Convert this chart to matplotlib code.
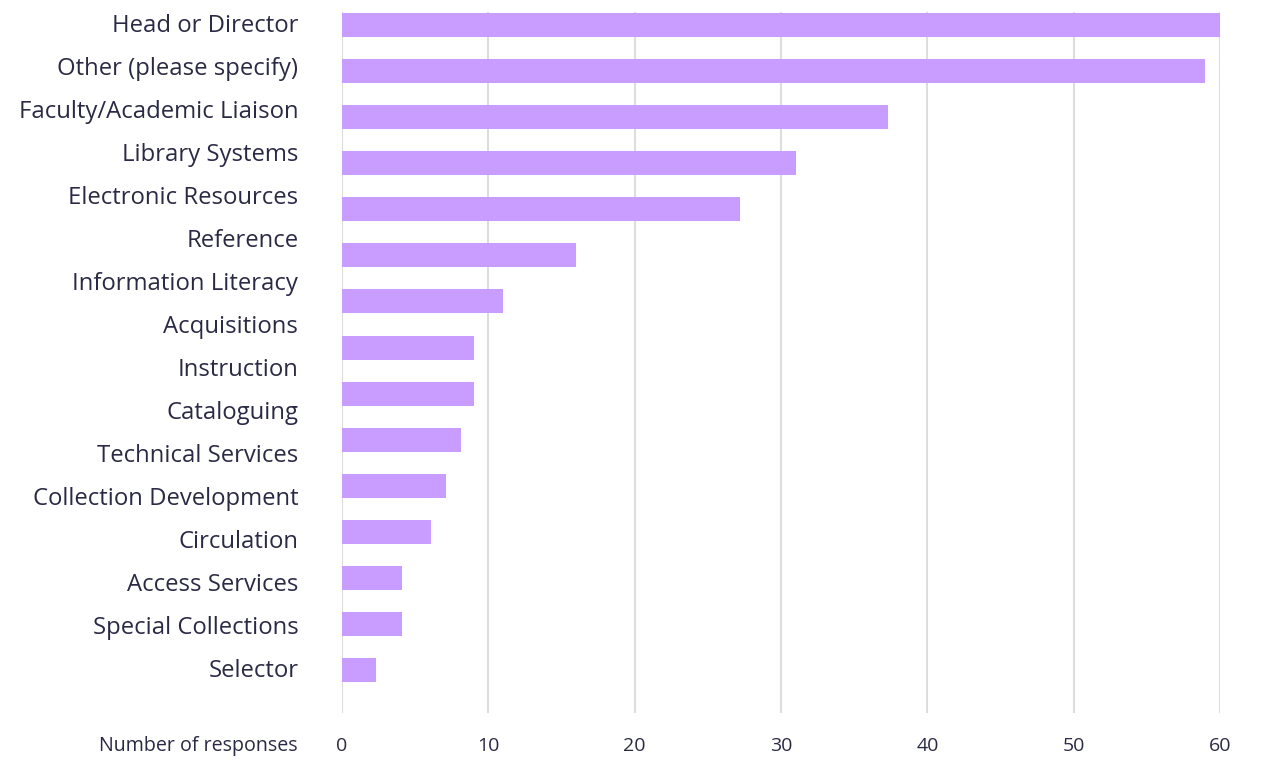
import numpy as np
import matplotlib
matplotlib.use("Agg")
import matplotlib.pyplot as plt

plt.rcParams["font.family"] = ["Open Sans", "DejaVu Sans"]

roles = [
    "Head or Director", "Other (please specify)", "Faculty/Academic Liaison",
    "Library Systems", "Electronic Resources", "Reference",
    "Information Literacy", "Acquisitions", "Instruction", "Cataloguing",
    "Technical Services", "Collection Development", "Circulation",
    "Access Services", "Special Collections", "Selector",
]
responses = [60, 59, 37.3, 31, 27.2, 16, 11, 9, 9, 8.1, 7.1, 6.1, 4.1, 4.1, 2.3]
xticks = [0, 10, 20, 30, 40, 50, 60]

bar_color = "#c99cff"
text_color = "#2b2a45"
grid_color = "#dddddd"

fig = plt.figure(figsize=(12.62, 7.60), dpi=100)
ax = fig.add_axes([0.271, 0.0618, 0.6957, 0.9224])

ax.barh(np.arange(len(responses)), responses, height=0.52, color=bar_color, zorder=2)
ax.set_xlim(0, 60)
ax.set_ylim(14.93, -0.28)

ax.set_xticks(xticks)
ax.set_xticklabels([str(t) for t in xticks])
ax.xaxis.grid(True, color=grid_color, linewidth=1.5, zorder=0)

# category labels sit on their own evenly spaced rows
ax.set_yticks(np.linspace(-0.043, 13.957, len(roles)))
ax.set_yticklabels(roles)

ax.tick_params(axis="x", length=0, pad=17.5, labelsize=14, labelcolor=text_color)
ax.tick_params(axis="y", length=0, pad=31.5, labelsize=17.2, labelcolor=text_color)
for s in ax.spines.values():
    s.set_visible(False)

fig.text(298 / 1262, 1 - 746 / 760, "Number of responses", ha="right", va="center",
         fontsize=14.1, color=text_color)

fig.savefig("out.png", dpi=100)
